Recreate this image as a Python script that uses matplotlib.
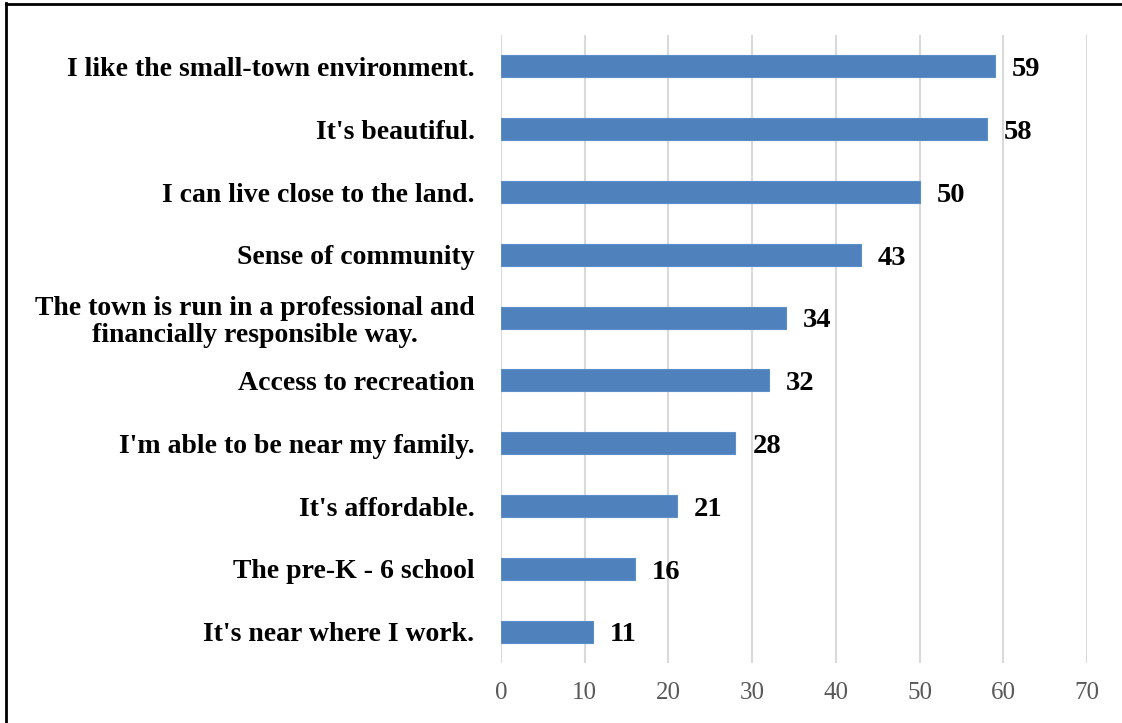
import numpy as np
import matplotlib
matplotlib.use('Agg')
import matplotlib.pyplot as plt
from matplotlib.lines import Line2D

reasons = [
    "I like the small-town environment.",
    "It's beautiful.",
    "I can live close to the land.",
    "Sense of community",
    "The town is run in a professional and\nfinancially responsible way.",
    "Access to recreation",
    "I'm able to be near my family.",
    "It's affordable.",
    "The pre-K - 6 school",
    "It's near where I work.",
]
counts = [59, 58, 50, 43, 34, 32, 28, 21, 16, 11]
xticks = [0, 10, 20, 30, 40, 50, 60, 70]

plt.rcParams['font.family'] = ['Liberation Serif', 'DejaVu Serif']

fig = plt.figure(figsize=(11.22, 7.23), dpi=100)
ax = fig.add_axes([501/1122, 1 - 663/723, (1087 - 501)/1122, (663 - 35)/723])

y = np.arange(len(reasons))
ax.barh(y, counts, height=0.35, color='#4F81BD', edgecolor='#5B8FCC', linewidth=0.8, zorder=3)

# value labels, baseline a bit below bar centre so the digits sit centred
for yi, v in zip(y, counts):
    ax.annotate(str(v), xy=(v, yi), xytext=(12.2, -7), textcoords='offset points',
                va='baseline', ha='left', fontsize=20.5, fontweight='bold', color='black')

ax.set_ylim(len(reasons) - 0.5, -0.5)
ax.set_xlim(0, 70)
ax.set_xticks(xticks)
ax.set_xticklabels([str(t) for t in xticks], fontsize=18, color='#595959')
ax.set_yticks(y)
ax.set_yticklabels(reasons, fontsize=20, fontweight='bold', color='black',
                   multialignment='center', linespacing=1.1)
ax.tick_params(axis='y', length=0, pad=19)
ax.tick_params(axis='x', length=0, pad=14)
ax.xaxis.grid(True, color='#D9D9D9', linewidth=1.5, zorder=0)
for s in ax.spines.values():
    s.set_visible(False)

# frame lines on the left and top of the picture
fig.add_artist(Line2D([6/1122, 6/1122], [0, 1 - 3/723], transform=fig.transFigure,
                      color='black', linewidth=2))
fig.add_artist(Line2D([6/1122, 1], [1 - 4/723, 1 - 4/723], transform=fig.transFigure,
                      color='black', linewidth=2))

fig.savefig('out.png', dpi=100)
